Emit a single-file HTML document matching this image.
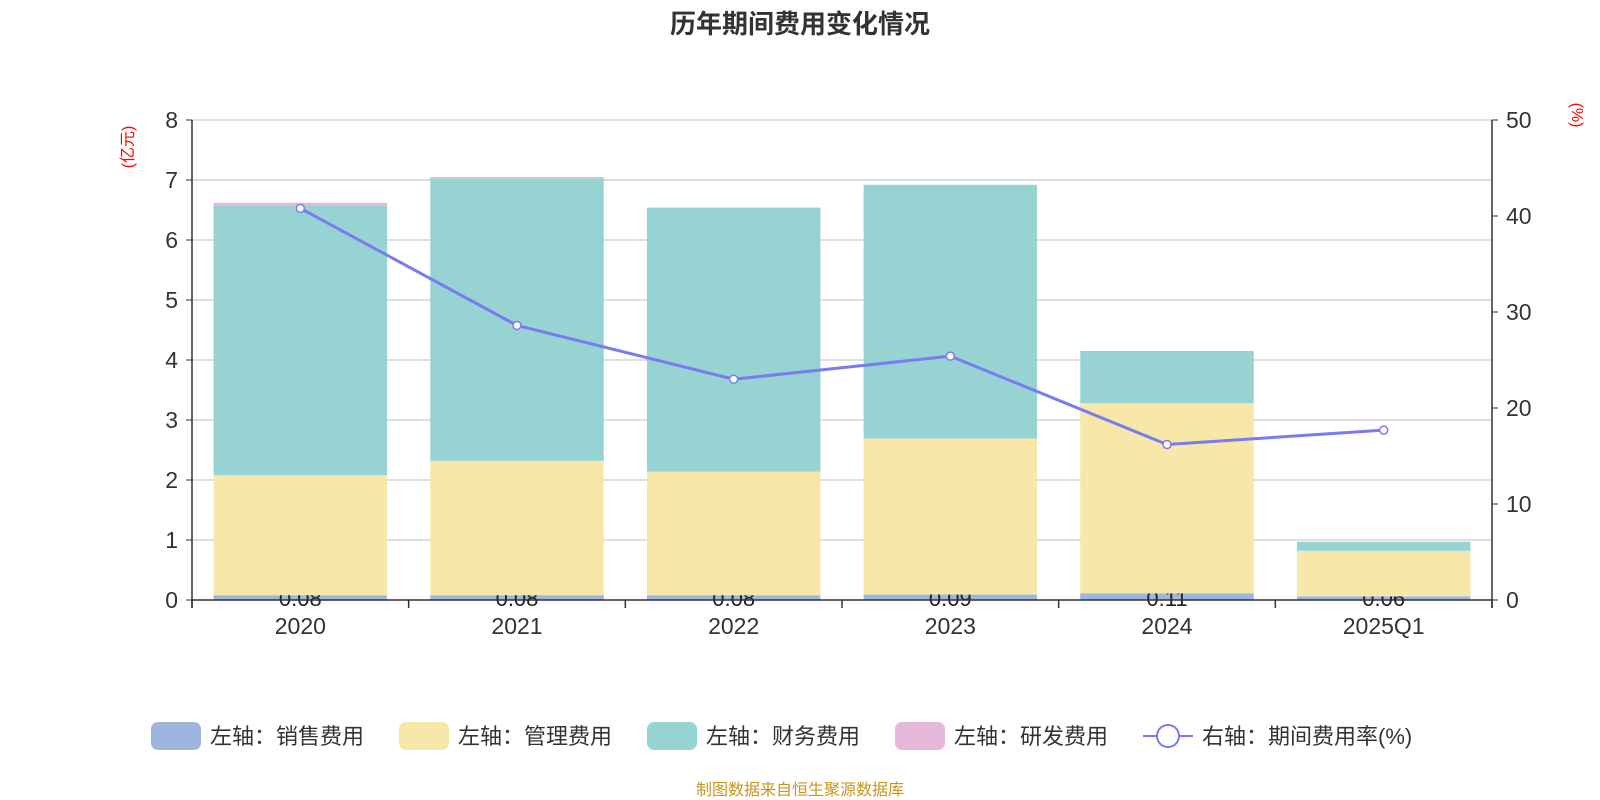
<!DOCTYPE html>
<html><head><meta charset="utf-8"><style>
body{margin:0;background:#fff;}
svg{display:block;font-family:"Liberation Sans","Noto Sans CJK SC",sans-serif;}
</style></head><body>
<svg id="c" width="1600" height="800">
<text x="800" y="33" text-anchor="middle" font-size="26" font-weight="bold" fill="#333">历年期间费用变化情况</text>
<text transform="translate(133,147) rotate(-90)" text-anchor="middle" font-size="16" fill="#f00">(亿元)</text>
<text transform="translate(1572,115) rotate(90)" text-anchor="middle" font-size="16" fill="#f00">(%)</text>
<g id="grid"></g><g id="bars"></g><g id="axes"></g><g id="line"></g>
<g id="legend" font-size="22" fill="#333"></g>
<text x="800" y="795" text-anchor="middle" font-size="16" fill="#c8961e">制图数据来自恒生聚源数据库</text>
</svg>
<script>
const categories=["2020","2021","2022","2023","2024","2025Q1"];
const sales=[0.08,0.08,0.08,0.09,0.11,0.06];
const mgmt=[2.00,2.24,2.06,2.60,3.17,0.76];
const finance=[4.50,4.71,4.40,4.23,0.87,0.15];
const rnd=[0.04,0.02,0,0,0,0];
const rate=[40.8,28.6,23.0,25.4,16.2,17.7];
const leftTicks=[0,1,2,3,4,5,6,7,8];
const rightTicks=[0,10,20,30,40,50];
const NS="http://www.w3.org/2000/svg";
const X0=192,X1=1492,Y0=600,YT=120;
const bw=(X1-X0)/categories.length;
const yL=v=>Y0-(v/8)*(Y0-YT);
const yR=v=>Y0-(v/50)*(Y0-YT);
const xC=i=>X0+bw*(i+0.5);
function mk(t,a,p){const e=document.createElementNS(NS,t);for(const k in a)e.setAttribute(k,a[k]);p.appendChild(e);return e;}
const grid=document.getElementById('grid'),bars=document.getElementById('bars'),axes=document.getElementById('axes'),line=document.getElementById('line'),leg=document.getElementById('legend');
leftTicks.forEach(v=>{
 const g=mk('line',{x1:X0,x2:X1,y1:yL(v),y2:yL(v),stroke:'#ccc','stroke-width':1.2},grid);
 
 
 const t=mk('text',{x:X0-14,y:yL(v)+8,'text-anchor':'end','font-size':23,fill:'#333'},axes);t.textContent=v;
 
 
 mk('line',{x1:X0-6,x2:X0,y1:yL(v),y2:yL(v),stroke:'#333'},axes);
});
rightTicks.forEach(v=>{
 const t=mk('text',{x:X1+14,y:yR(v)+8,'font-size':23,fill:'#333'},axes);t.textContent=v;
 
 
 mk('line',{x1:X1,x2:X1+6,y1:yR(v),y2:yR(v),stroke:'#333'},axes);
});
mk('line',{x1:X0,x2:X0,y1:YT,y2:Y0+8,stroke:'#333','stroke-width':1.5},axes);
mk('line',{x1:X1,x2:X1,y1:YT,y2:Y0+8,stroke:'#333','stroke-width':1.5},axes);
mk('line',{x1:X0,x2:X1,y1:Y0,y2:Y0,stroke:'#333','stroke-width':1.5},axes);
for(let i=0;i<=categories.length;i++)mk('line',{x1:X0+bw*i,x2:X0+bw*i,y1:Y0,y2:Y0+8,stroke:'#333','stroke-width':1.5},axes);
const series=[[sales,'#9db6e0','sales-bar'],[mgmt,'#f7e7a8','management-bar'],[finance,'#98d3d4','finance-bar'],[rnd,'#e6b8d8','rnd-bar']];
const BW=173.5;
categories.forEach((c,i)=>{
 let base=0;
 series.forEach(([arr,col,nm],si)=>{
  const v=arr[i];
  const r=mk('rect',{x:xC(i)-BW/2,y:yL(base+v),width:BW,height:Math.max(0,yL(base)-yL(base+v)),fill:col},bars);
  
  
  base+=v;
  if(si===0){const t=mk('text',{x:xC(i),y:Y0+6,'text-anchor':'middle','font-size':22,fill:'#222'},bars);t.textContent=sales[i].toFixed(2);
   
   }
 });
 const t=mk('text',{x:xC(i),y:Y0+34,'text-anchor':'middle','font-size':23,fill:'#333'},axes);t.textContent=c;
 
 
});
const pl=mk('polyline',{points:rate.map((v,i)=>xC(i)+','+yR(v)).join(' '),fill:'none',stroke:'#7b7bf0','stroke-width':3},line);


rate.forEach((v,i)=>{const p=mk('circle',{cx:xC(i),cy:yR(v),r:4,fill:'#fff',stroke:'#7b7bf0','stroke-width':1.5},line);
 
 });
const items=[['左轴：销售费用','#9db6e0',151],['左轴：管理费用','#f7e7a8',399],['左轴：财务费用','#98d3d4',647],['左轴：研发费用','#e6b8d8',895]];
items.forEach(([t,col,x])=>{
 const g=mk('g',{},leg);
 
 
 mk('rect',{x:x,y:722,width:50,height:28,rx:7,fill:col},g);
 const tx=mk('text',{x:x+59,y:744},g);tx.textContent=t;
});
const g=mk('g',{},leg);


mk('line',{x1:1143,x2:1193,y1:736,y2:736,stroke:'#7b7bf0','stroke-width':2},g);
mk('circle',{cx:1168,cy:736,r:11,fill:'#fff',stroke:'#7b7bf0','stroke-width':2},g);
const tx=mk('text',{x:1202,y:744},g);tx.textContent='右轴：期间费用率(%)';
</script>
</body></html>
